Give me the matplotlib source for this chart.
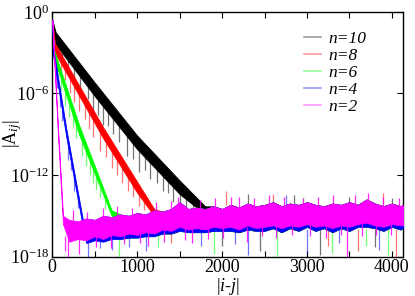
import numpy as np
import matplotlib
matplotlib.use('Agg')
import matplotlib.pyplot as plt
from matplotlib.lines import Line2D
from matplotlib.ticker import FixedLocator, MultipleLocator, NullLocator, LogFormatterMathtext

plt.rcParams['font.family'] = 'Liberation Serif'
plt.rcParams['mathtext.fontset'] = 'custom'
plt.rcParams['mathtext.rm'] = 'Liberation Serif'
plt.rcParams['mathtext.it'] = 'Liberation Serif:italic'

# values are log10|A_ij|

# decay part of each curve: upper / lower edge of the dense band
bk_x  = [0, 40, 500, 1000, 1500, 1800]
bk_hi = [-0.6, -1.5, -5.2, -9.1, -12.4, -14.3]
bk_lo = [-0.7, -2.4, -6.2, -10.1, -13.4, -14.9]

rd_x  = [0, 30, 600, 1000, 1200]
rd_hi = [-0.7, -2.3, -8.5, -12.5, -14.5]
rd_lo = [-0.8, -3.0, -9.3, -13.3, -15.0]

gr_x  = [0, 20, 320, 700]
gr_hi = [-0.8, -2.8, -8.4, -14.6]
gr_lo = [-0.9, -3.4, -9.1, -15.0]

bl_x  = [0, 10, 165, 360]
bl_hi = [-0.6, -2.6, -8.6, -15.3]
bl_lo = [-0.7, -3.2, -9.2, -15.8]

mg_x  = [0, 67, 126]
mg_hi = [-0.6, -8.5, -15.0]
mg_lo = [-0.7, -9.0, -15.6]

# round-off floor (magenta on top, other colours show just below it)
floor_x = [120, 200, 300, 400, 500, 600, 700, 800, 900, 1000, 1100, 1200, 1300, 1400,
           1500, 1600, 1700, 1800, 1900, 2000, 2100, 2200, 2300, 2400, 2500, 2600, 2700,
           2800, 2900, 3000, 3100, 3200, 3300, 3400, 3500, 3600, 3700, 3800, 3900, 4000,
           4100, 4130]
floor_hi = [-15.0, -15.3, -15.4, -15.2, -15.3, -15.0, -15.1, -14.9, -15.0, -14.8, -14.9,
            -14.6, -14.7, -14.5, -14.0, -14.5, -14.4, -14.5, -14.3, -14.5, -14.2, -14.4,
            -14.1, -14.3, -14.2, -14.0, -14.3, -14.1, -14.2, -14.0, -14.2, -14.3, -14.1,
            -14.2, -14.0, -14.2, -13.8, -14.1, -14.3, -14.1, -14.3, -14.2]
floor_lo = [-16.5, -16.9, -16.7, -16.8, -16.5, -16.7, -16.4, -16.5, -16.3, -16.4, -16.2,
            -16.3, -16.0, -16.1, -15.8, -16.0, -15.9, -16.0, -15.8, -15.9, -15.8, -16.0,
            -15.7, -15.9, -15.8, -15.7, -15.9, -15.7, -15.8, -15.6, -15.8, -15.7, -15.9,
            -15.7, -15.8, -15.6, -15.5, -15.7, -15.8, -15.6, -15.7, -15.7]
fringe_lo = [-16.7, -17.1, -17.0, -17.0, -16.8, -16.9, -16.7, -16.7, -16.6, -16.6, -16.5,
             -16.5, -16.3, -16.3, -16.1, -16.2, -16.2, -16.2, -16.1, -16.1, -16.1, -16.2,
             -16.0, -16.1, -16.1, -15.9, -16.2, -15.9, -16.1, -15.8, -16.1, -15.9, -16.2,
             -15.9, -16.1, -15.8, -15.8, -15.9, -16.1, -15.8, -16.0, -15.9]

# single spikes: x, top, bottom
bk_sx = [120, 190, 250, 330, 420, 480, 540, 600, 660, 720, 790, 880, 950, 1020, 1090, 1150,
         1230, 1300, 1360, 1420, 1500, 1580, 1660, 2000, 2300, 2450, 2850, 3150, 3500, 3800, 4000]
bk_st = [-2.8, -3.4, -3.9, -4.5, -5.3, -5.8, -6.2, -6.7, -7.2, -7.6, -8.2, -8.9, -9.4, -10.0,
         -10.4, -10.8, -11.3, -11.8, -12.2, -12.6, -13.1, -13.5, -13.9, -16.0, -13.4, -16.0,
         -13.5, -16.0, -13.6, -16.0, -13.7]
bk_sb = [-3.9, -4.6, -4.9, -5.9, -6.4, -7.3, -7.6, -8.3, -8.4, -9.0, -9.6, -10.6, -10.8, -11.8,
         -11.6, -12.3, -12.6, -13.2, -13.3, -14.0, -14.2, -14.6, -14.9, -17.2, -14.3, -17.6,
         -14.2, -17.9, -14.4, -17.3, -14.3]

rd_sx = [100, 150, 210, 260, 320, 380, 430, 480, 560, 630, 700, 760, 820, 890, 950, 1020,
         1080, 1400, 2050, 2600, 3250, 3600, 3900, 4050]
rd_st = [-3.5, -4.0, -4.7, -5.3, -5.9, -6.6, -7.1, -7.7, -8.6, -9.3, -10.0, -10.6, -11.2,
         -11.9, -12.5, -13.2, -13.7, -16.0, -13.2, -13.4, -16.0, -16.0, -13.3, -16.0]
rd_sb = [-4.7, -5.0, -6.0, -6.6, -7.3, -7.9, -8.6, -9.2, -10.2, -10.7, -11.5, -12.0, -12.6,
         -13.2, -13.6, -14.3, -14.6, -17.0, -14.2, -14.2, -17.2, -17.6, -14.2, -18.0]

gr_sx = [60, 100, 150, 200, 240, 280, 350, 400, 440, 480, 520, 560, 620, 780, 1250, 1900,
         2650, 2950, 3300, 3700, 3950]
gr_st = [-3.9, -4.6, -5.6, -6.5, -7.3, -8.0, -9.3, -10.0, -10.7, -11.3, -11.9, -12.5, -13.5,
         -16.0, -16.0, -16.0, -16.0, -13.6, -16.0, -16.0, -16.0]
gr_sb = [-5.0, -5.8, -6.9, -7.7, -8.5, -9.3, -10.6, -11.3, -12.0, -12.6, -13.1, -13.6, -14.5,
         -18.0, -17.3, -17.8, -18.0, -14.3, -17.7, -17.2, -17.9]

bl_sx = [40, 60, 90, 120, 190, 220, 260, 300, 420, 560, 700, 900, 1100, 1750, 2150, 2300,
         2750, 3000, 3380, 3850]
bl_st = [-4.1, -4.9, -5.9, -7.2, -9.8, -10.8, -12.1, -13.5, -16.0, -16.2, -16.0, -16.0,
         -16.0, -16.0, -16.0, -16.0, -13.5, -16.0, -16.0, -16.0]
bl_sb = [-5.0, -5.6, -7.0, -8.0, -10.9, -11.6, -13.2, -14.4, -18.0, -17.4, -17.5, -17.3,
         -17.6, -17.2, -17.1, -17.9, -14.5, -17.7, -17.0, -17.5]

mg_sx = [150, 180, 240, 320, 410, 520, 600, 690, 760, 850, 940, 1030, 1130, 1220, 1310,
         1400, 1480, 1560, 1650, 1740, 1830, 1920, 2010, 2100, 2200, 2290, 2380, 2470, 2550,
         2640, 2730, 2820, 2950, 3040, 3130, 3220, 3310, 3400, 3470, 3560, 3650, 3720, 3810,
         3900, 3990, 4080]
mg_st = [-16.5, -16.5, -14.6, -16.5, -14.7, -16.4, -14.4, -16.3, -14.3, -16.3, -14.4, -16.2,
         -16.2, -14.0, -16.0, -13.9, -13.6, -15.9, -15.9, -13.8, -15.9, -13.7, -15.8, -13.6,
         -13.6, -15.8, -13.7, -15.8, -13.5, -15.7, -13.6, -15.7, -13.7, -15.7, -13.6, -15.7,
         -13.5, -15.7, -15.8, -13.5, -15.6, -13.3, -15.6, -13.6, -15.6, -13.7]
mg_sb = [-17.6, -18.0, -15.5, -17.8, -15.4, -17.3, -15.2, -17.4, -15.1, -17.1, -15.1, -17.0,
         -17.2, -14.8, -16.9, -14.7, -14.5, -16.8, -17.0, -14.6, -16.7, -14.5, -16.6, -14.4,
         -14.4, -16.9, -14.4, -16.5, -14.3, -16.6, -14.3, -16.4, -14.3, -16.5, -14.3, -16.6,
         -14.2, -16.4, -18.0, -14.2, -16.5, -14.0, -16.4, -14.3, -16.4, -14.3]

labels = ['n=10', 'n=8', 'n=6', 'n=4', 'n=2']
colors = ['#000000', '#ff0000', '#00ff00', '#0000ff', '#ff00ff']

curves = [(bk_x, bk_hi, bk_lo, bk_sx, bk_st, bk_sb),
          (rd_x, rd_hi, rd_lo, rd_sx, rd_st, rd_sb),
          (gr_x, gr_hi, gr_lo, gr_sx, gr_st, gr_sb),
          (bl_x, bl_hi, bl_lo, bl_sx, bl_st, bl_sb),
          (mg_x, mg_hi, mg_lo, mg_sx, mg_st, mg_sb)]

fig = plt.figure(figsize=(4.15, 2.96), dpi=100)
ax = fig.add_axes([0.126, 0.133, 0.845, 0.827])
ax.set_yscale('log')

for k, (x, hi, lo, sx, st, sb) in enumerate(curves):
    c = colors[k]
    fl = np.array(floor_x)
    keep = fl > x[-1]
    xx = np.concatenate([x, fl[keep]])
    top = np.concatenate([hi, np.array(floor_hi)[keep]])
    if k == 4:
        bot = np.concatenate([lo, np.array(floor_lo)[keep]])
    else:
        bot = np.concatenate([lo, np.array(fringe_lo)[keep]])
    ax.fill_between(xx, 10.0 ** bot, 10.0 ** top, facecolor=c, edgecolor=c, lw=0.6, zorder=2 + k)
    a = 0.85 if k == 4 else 0.55
    ax.vlines(sx, 10.0 ** np.array(sb), 10.0 ** np.array(st), colors=c, lw=0.9, alpha=a, zorder=2 + k)

ax.set_xlim(0, 4130)
ax.set_ylim(1e-18, 1)
ax.xaxis.set_major_locator(MultipleLocator(1000))
ax.xaxis.set_minor_locator(MultipleLocator(500))
ax.yaxis.set_major_locator(FixedLocator([1e-18, 1e-12, 1e-6, 1]))
ax.yaxis.set_major_formatter(LogFormatterMathtext())
ax.yaxis.set_minor_locator(NullLocator())
ax.tick_params(which='both', direction='in', top=True, right=True, length=4, width=0.8,
               labelsize=13, pad=2)
for s in ax.spines.values():
    s.set_linewidth(1.0)

ax.set_xlabel(r'$|i$-$j|$', fontsize=13, labelpad=0)
ax.set_ylabel(r'$|\mathrm{A}_{ij}|$', fontsize=13)
ax.yaxis.set_label_coords(-0.08, 0.5)

handles = [Line2D([], [], color=c, lw=1.2, alpha=0.4) for c in colors]
ax.legend(handles, labels, loc='upper right', bbox_to_anchor=(0.94, 0.985), frameon=False,
          prop={'style': 'italic', 'size': 12.5}, handlelength=1.0, handletextpad=0.4,
          labelspacing=0.05)

fig.savefig('out.png', dpi=100)
